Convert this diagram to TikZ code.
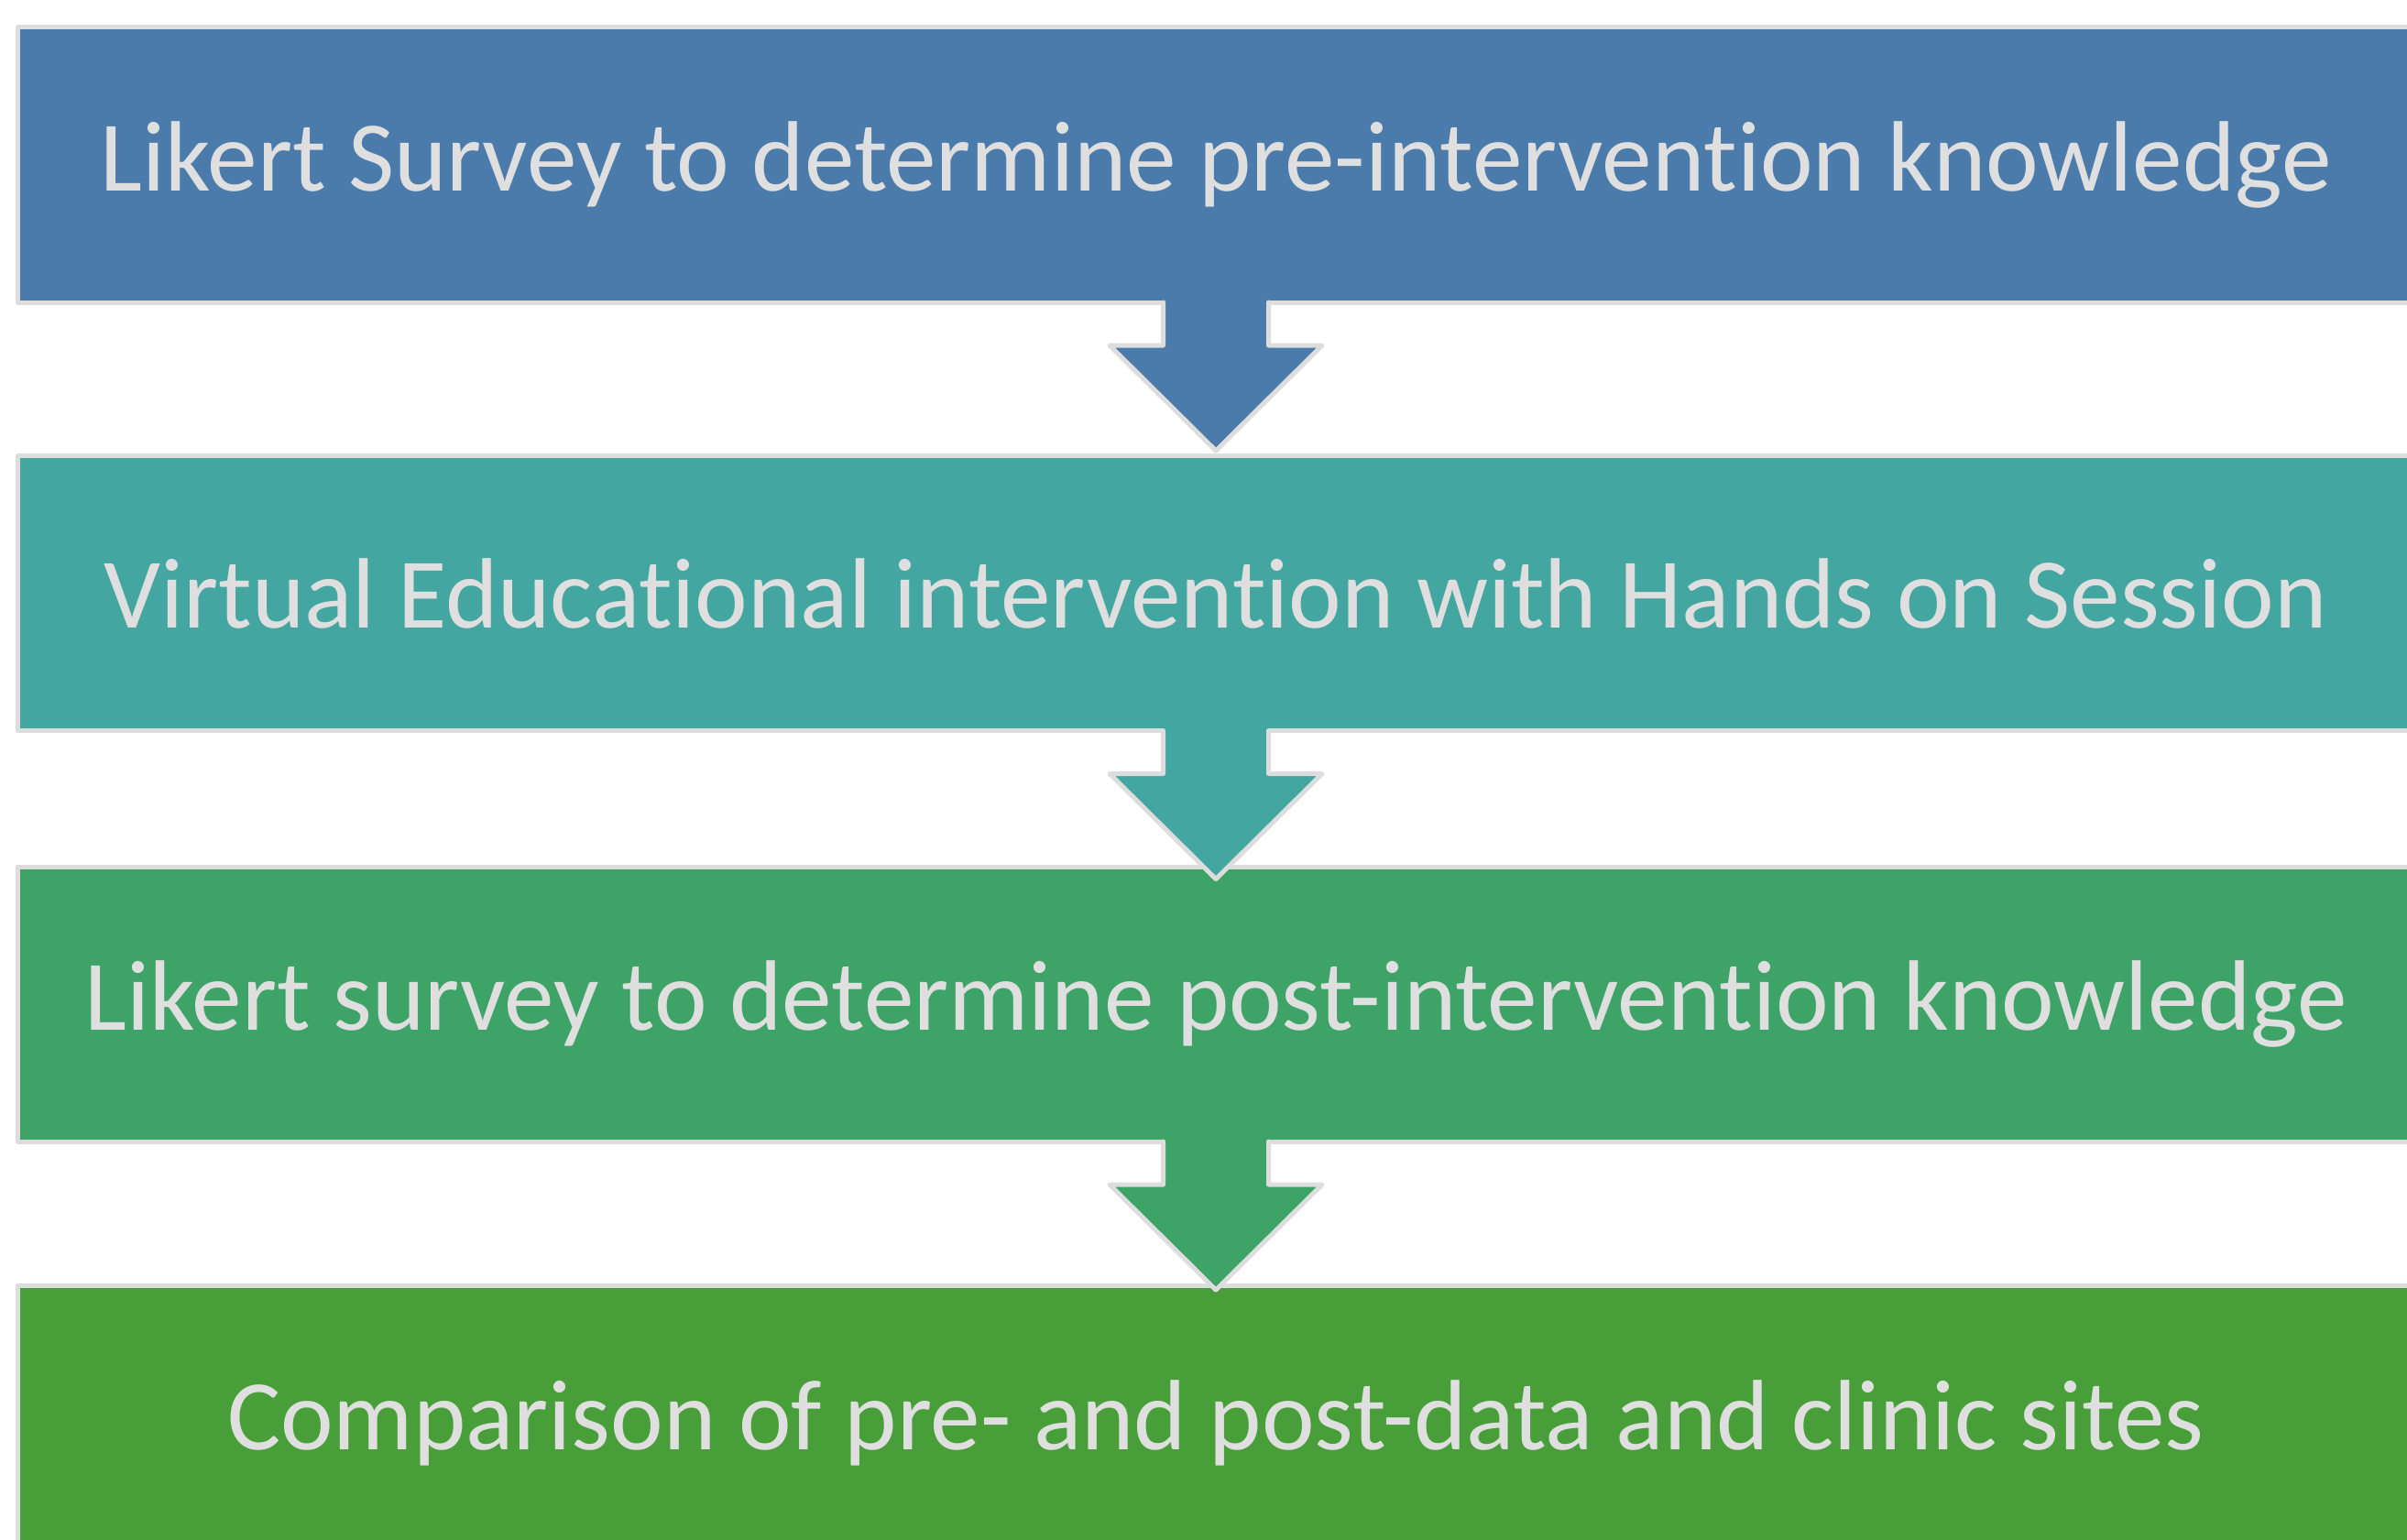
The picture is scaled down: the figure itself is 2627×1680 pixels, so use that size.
\documentclass[tikz,border=0pt]{standalone}
\usepackage{fontspec}
\setmainfont{Carlito}[Ligatures={NoCommon}]
\usetikzlibrary{calc}
\definecolor{cA}{RGB}{74,123,170}
\definecolor{cB}{RGB}{67,166,161}
\definecolor{cC}{RGB}{62,163,103}
\definecolor{cD}{RGB}{72,158,56}
\definecolor{bordc}{RGB}{221,221,221}
\definecolor{txtc}{RGB}{223,223,223}
\tikzset{
  stepbox/.style={draw=bordc, line width=2.5pt, line join=round, rectangle,
    minimum width=1308pt, minimum height=150pt, inner sep=0pt, outer sep=0pt,
    text=txtc, font=\fontsize{54.6}{62}\selectfont},
  bord/.style={draw=bordc, line width=2.5pt, line join=round, line cap=round}
}
\begin{document}
\begin{tikzpicture}[x=0.5pt, y=-0.5pt]
\useasboundingbox (0,0) rectangle (2627,1680);
\clip (0,0) rectangle (2627,1680);
\fill[white] (0,0) rectangle (2627,1680);
\node[stepbox, fill=cA] (b1) at (1327,180) {Likert Survey to determine pre-intervention knowledge};
\node[stepbox, fill=cB] (b2) at (1327,647.5) {Virtual Educational intervention with Hands on Session};
\node[stepbox, fill=cC] (b3) at (1327,1096) {Likert survey to determine post-intervention knowledge};
\node[stepbox, fill=cD] (b4) at (1327,1553) {Comparison of pre- and post-data and clinic sites};
\foreach \a/\c in {b1/cA, b2/cB, b3/cC} {
  \fill[\c] ($(\a.south)+(-57.5,-4)$) -- ($(\a.south)+(-57.5,47)$) -- ($(\a.south)+(-116,47)$)
    -- ($(\a.south)+(0,162)$) -- ($(\a.south)+(116,47)$) -- ($(\a.south)+(57.5,47)$)
    -- ($(\a.south)+(57.5,-4)$) -- cycle;
  \draw[bord] ($(\a.south)+(-57.5,0)$) -- ($(\a.south)+(-57.5,47)$) -- ($(\a.south)+(-116,47)$)
    -- ($(\a.south)+(0,162)$) -- ($(\a.south)+(116,47)$) -- ($(\a.south)+(57.5,47)$)
    -- ($(\a.south)+(57.5,0)$);
}
\end{tikzpicture}
\end{document}
